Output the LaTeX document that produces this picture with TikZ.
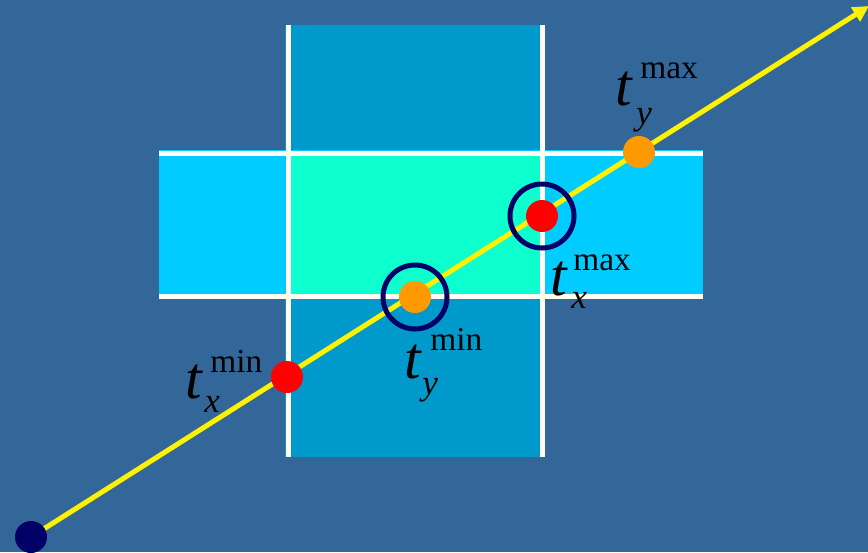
\documentclass[tikz,border=0pt]{standalone}
\usepackage{fontspec}
\setmainfont{Liberation Serif}
\usetikzlibrary{arrows.meta, positioning}

\definecolor{bgblue}{RGB}{51,102,153}
\definecolor{yband}{RGB}{0,153,204}
\definecolor{xband}{RGB}{0,204,255}
\definecolor{overlap}{RGB}{12,255,204}
\definecolor{navy}{RGB}{0,0,102}
\definecolor{dotorange}{RGB}{255,153,0}
\definecolor{cream}{RGB}{255,255,242}

\begin{document}
\begin{tikzpicture}[x=0.02cm, y=-0.02cm,
    edge/.style={draw=cream, line width=5*0.02cm},
    ray/.style={draw=yellow, line width=5*0.02cm, -{Triangle[length=0.32cm, width=0.32cm]}},
    dot/.style={circle, inner sep=0, minimum size=32*0.02cm},
    ring/.style={circle, draw=navy, line width=5*0.02cm, inner sep=0, minimum size=64*0.02cm},
    tbig/.style={inner sep=0, anchor=base west, font=\fontsize{34}{36}\selectfont\itshape},
    tsup/.style={inner sep=0, anchor=base west, font=\fontsize{19}{20}\selectfont},
    tsub/.style={inner sep=0, anchor=base west, font=\fontsize{20}{22}\selectfont\itshape}]
    \useasboundingbox (0,0) rectangle (868,552);
    \fill[bgblue] (0,0) rectangle (868,552);

    % Slabs
    \fill[yband] (285,25) rectangle (545,457);
    \fill[xband] (159,150) rectangle (703,299);
    \fill[overlap] (288,153) rectangle (542,296);

    % Slab borders
    \draw[edge] (288,25) -- (288,457);
    \draw[edge] (542,25) -- (542,457);
    \draw[edge] (159,153) -- (703,153);
    \draw[edge] (159,296) -- (703,296);

    % Ray
    \coordinate (origin) at (31,537);
    \coordinate (tip) at (869,6);
    \draw[ray] (origin) -- (tip);

    % Hits
    \node[dot, fill=navy] (start) at (origin) {};
    \node[dot, fill=red] (txmin) at (287,377) {};
    \node[dot, fill=dotorange] (tymin) at (415,297) {};
    \node[dot, fill=red] (txmax) at (542,216) {};
    \node[dot, fill=dotorange] (tymax) at (639,152) {};
    \node[ring] (entry) at (tymin) {};
    \node[ring] (exit) at (txmax) {};

    % Labels
    \node[tbig] (lxmin) at (185,398) {t};
    \node[tsup] (lxminsup) at (210,372) {min};
    \node[tsub] (lxminsub) at (204,412) {x};

    \node[tbig] (lymin) at (404,378) {t};
    \node[tsup] (lyminsup) at (430,350) {min};
    \node[tsub] (lyminsub) at (422,394) {y};

    \node[tbig] (lxmax) at (550,295) {t};
    \node[tsup] (lxmaxsup) at (573,270) {max};
    \node[tsub] (lxmaxsub) at (571,308) {x};

    \node[tbig] (lymax) at (615,105) {t};
    \node[tsup] (lymaxsup) at (640,78) {max};
    \node[tsub] (lymaxsub) at (636,124) {y};
\end{tikzpicture}
\end{document}
